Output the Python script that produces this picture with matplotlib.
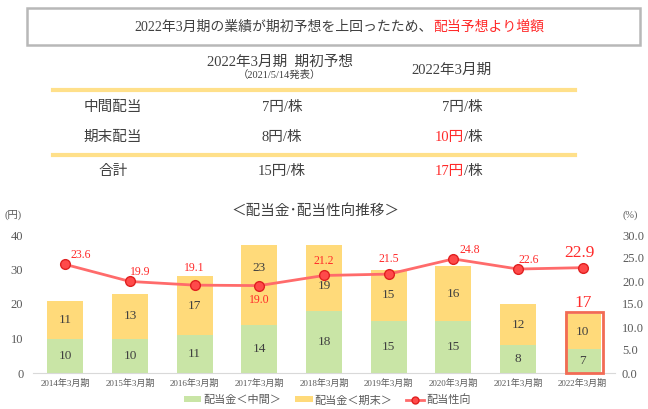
import numpy as np
import matplotlib
matplotlib.use("Agg")
import matplotlib.pyplot as plt
from matplotlib.patches import Rectangle
from matplotlib.lines import Line2D

plt.rcParams['font.family'] = ['Liberation Serif', 'Noto Sans CJK JP', 'DejaVu Sans']

# data
years = ['2014年3月期', '2015年3月期', '2016年3月期', '2017年3月期', '2018年3月期',
         '2019年3月期', '2020年3月期', '2021年3月期', '2022年3月期']
interim = [10, 10, 11, 14, 18, 15, 15, 8, 7]
year_end = [11, 13, 17, 23, 19, 15, 16, 12, 10]
payout = [23.6, 19.9, 19.1, 19.0, 21.2, 21.5, 24.8, 22.6, 22.9]

row_labels = ['中間配当', '期末配当', '合計']
plan_vals = ['7円/株', '8円/株', '15円/株']
actual_vals = ['7', '10', '17']

GREEN = '#C9E5A6'
YELLOW = '#FFDA7A'
RED = '#FF2A2A'
LINE = '#FF6B6B'
TXT = '#404040'
TICK = '#595959'

W, H = 648, 409
fig = plt.figure(figsize=(W / 100, H / 100), dpi=100)


def fx(px):
    return px / W


def fy(py):
    return 1 - py / H


# top box with headline
fig.patches.append(Rectangle((fx(27), fy(45)), fx(613), 37 / H, transform=fig.transFigure,
                             fill=False, edgecolor='#B8B8B8', lw=1.8))
fig.text(fx(433), fy(27), '2022年3月期の業績が期初予想を上回ったため、', ha='right', va='center',
         fontsize=10, color=TXT)
fig.text(fx(433), fy(27), '配当予想より増額', ha='left', va='center', fontsize=10, color=RED)

# table
fig.text(fx(280), fy(62), '2022年3月期  期初予想', ha='center', va='center', fontsize=10.5, color=TXT)
fig.text(fx(279), fy(75), '（2021/5/14発表）', ha='center', va='center', fontsize=7.5, color=TXT)
fig.text(fx(452), fy(70), '2022年3月期', ha='center', va='center', fontsize=10.5, color=TXT)
for yl in (90, 155):
    fig.lines.append(Line2D([fx(53), fx(575)], [fy(yl), fy(yl)], transform=fig.transFigure,
                            color='#FFE08A', lw=3))
row_y = [107, 137, 172]
for i, lab in enumerate(row_labels):
    fig.text(fx(113), fy(row_y[i]), lab, ha='center', va='center', fontsize=10.5, color=TXT)
    fig.text(fx(282), fy(row_y[i]), plan_vals[i], ha='center', va='center', fontsize=10.5, color=TXT)
    col = TXT if i == 0 else RED
    fig.text(fx(464), fy(row_y[i]), actual_vals[i] + '円', ha='right', va='center', fontsize=10.5, color=col)
    fig.text(fx(464), fy(row_y[i]), '/株', ha='left', va='center', fontsize=10.5, color=TXT)

# chart
ax = fig.add_axes([fx(33), fy(373), fx(615 - 33), (373 - 235) / H])
x = np.arange(len(years))
bw = 0.56
ax.bar(x, interim, bw, color=GREEN, label='配当金＜中間＞', zorder=2)
ax.bar(x, year_end, bw, bottom=interim, color=YELLOW, label='配当金＜期末＞', zorder=2)
# vertical nudges so the upper labels stay clear of the line
nudge = {3: 4.9, 4: -2.3}
for i in range(len(x)):
    ax.text(x[i], interim[i] / 2, str(interim[i]), ha='center', va='center', fontsize=9.5, color=TXT, zorder=4)
    ym = interim[i] + year_end[i] / 2 + nudge.get(i, 0)
    ax.text(x[i], ym, str(year_end[i]), ha='center', va='center', fontsize=9.5, color=TXT, zorder=4)
total_last = interim[-1] + year_end[-1]
ax.text(x[-1], total_last + 3.3, str(total_last), ha='center', va='center', fontsize=12.5, color=RED)
ax.add_patch(Rectangle((x[-1] - bw / 2 + 0.02, -0.1), bw + 0.02, total_last + 0.7,
                       fill=False, edgecolor='#F26B55', lw=2, zorder=5, clip_on=False))

ax.set_xlim(-0.5, len(x) - 0.5)
ax.set_ylim(0, 40)
ax.set_yticks(range(0, 41, 10))
ax.set_xticks(x)
ax.set_xticklabels(years, fontsize=6.5, color=TICK)
ax.tick_params(axis='y', labelsize=9, colors=TICK, length=0, pad=7)
ax.tick_params(axis='x', length=0, pad=4)
for s in ['top', 'right', 'left']:
    ax.spines[s].set_visible(False)
ax.spines['bottom'].set_color('#D9D9D9')

ax2 = ax.twinx()
ax2.set_ylim(0, 30)
ax2.set_yticks(np.arange(0, 31, 5))
ax2.set_yticklabels(['%.1f' % v for v in np.arange(0, 31, 5)])
ax2.tick_params(axis='y', labelsize=9, colors=TICK, length=0, pad=5)
for s in ['top', 'right', 'left', 'bottom']:
    ax2.spines[s].set_visible(False)
ax2.plot(x, payout, color=LINE, lw=2, marker='o', ms=7, mfc='#FF4A4A', mec='#E02020',
         mew=1, label='配当性向', zorder=6)

# label offsets in pixels (dx, dy)
label_off = [(15, 9), (10, 9), (0, 17), (0, -14), (0, 14), (0, 15), (16, 9), (11, 9), (-3, 15)]
for i, v in enumerate(payout):
    big = i == len(payout) - 1
    dx, dy = label_off[i]
    ax2.annotate('%.1f' % v, (x[i], v), xytext=(dx * 0.72, dy * 0.72), textcoords='offset points',
                 ha='center', va='center', fontsize=12.5 if big else 8.5, color=RED, zorder=7)

fig.text(fx(316), fy(211), '＜配当金･配当性向推移＞', ha='center', va='center', fontsize=10.5, color=TXT)
fig.text(fx(13), fy(215), '(円)', ha='center', va='center', fontsize=7.5, color=TICK)
fig.text(fx(630), fy(215), '(%)', ha='center', va='center', fontsize=7.5, color=TICK)

h1, l1 = ax.get_legend_handles_labels()
leg_line = Line2D([], [], color=LINE, lw=2, marker='o', ms=5, mfc='#FF4A4A', mec='#E02020')
fig.legend(h1 + [leg_line], l1 + ['配当性向'], loc='center', bbox_to_anchor=(fx(327), fy(400)), ncol=3,
           frameon=False, fontsize=8, labelcolor=TICK, handlelength=1.6, handleheight=0.45,
           columnspacing=1.2, handletextpad=0.2)

fig.savefig('out.png', dpi=100)
